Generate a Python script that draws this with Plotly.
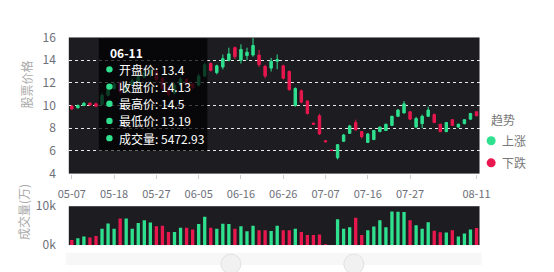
import plotly.graph_objects as go

# ---------------- data ----------------
dates = ["05-07", "05-08", "05-09", "05-10", "05-11", "05-14", "05-15", "05-18",
         "05-19", "05-21", "05-22", "05-23", "05-24", "05-25", "05-27",
         "05-28", "05-29", "05-30", "05-31", "06-01", "06-04", "06-05",
         "06-06", "06-07", "06-08", "06-11", "06-12", "06-13", "06-16",
         "06-18", "06-19", "06-20", "06-21", "06-22", "06-25", "06-26",
         "06-27", "06-28", "06-29", "07-02", "07-03", "07-05", "07-07",
         "07-09", "07-10", "07-11", "07-12", "07-13", "07-14", "07-16",
         "07-17", "07-18", "07-19", "07-20", "07-23", "07-24", "07-27",
         "07-28", "07-30", "07-31", "08-01", "08-02", "08-03", "08-06",
         "08-07", "08-08", "08-09", "08-11"]

open_ = [9.95, 9.8, 10.0, 10.2, 10.15, 10.1, 10.9, 11.5, 12.0, 11.2, 11.8, 12.1, 12.5, 12.7,
         13.0, 12.4, 11.6, 11.1, 11.8, 12.3, 11.9, 11.8, 12.6, 13.7, 12.9, 13.4, 14.0, 15.1,
         14.0, 14.4, 14.45, 14.45, 13.45, 13.3, 13.9, 13.5, 13.0, 10.0, 11.3, 10.4, 8.45, 9.1,
         6.9, 6.05, 5.4, 6.85, 7.55, 8.5, 7.7, 6.75, 7.0, 7.7, 7.8, 8.25, 9.05, 9.35,
         9.45, 8.1, 8.4, 9.05, 9.2, 8.35, 7.7, 8.75, 8.1, 8.4, 8.8, 9.45]
close = [9.7, 10.0, 10.2, 10.05, 9.95, 10.9, 11.6, 11.9, 11.2, 11.9, 12.2, 12.6, 12.9, 13.1,
         12.3, 11.5, 11.0, 11.8, 12.3, 11.8, 11.6, 12.6, 13.6, 13.1, 13.5, 14.13, 14.55, 14.3,
         14.95, 14.7, 15.3, 13.6, 12.6, 13.9, 14.05, 12.4, 11.4, 11.5, 10.3, 9.3, 8.35, 7.5,
         6.8, 6.05, 6.55, 7.4, 8.2, 7.85, 7.25, 7.5, 7.8, 8.1, 8.35, 9.05, 9.6, 10.15,
         8.8, 8.85, 9.05, 9.6, 8.5, 7.7, 8.5, 8.25, 8.35, 8.75, 9.3, 9.1]
high = [10.05, 10.1, 10.3, 10.3, 10.25, 11.1, 11.9, 12.1, 12.2, 12.1, 12.4, 12.8, 13.1, 13.3,
        13.1, 12.5, 11.8, 12.0, 12.5, 12.4, 12.0, 12.8, 13.8, 13.8, 13.6, 14.5, 15.1, 15.2,
        15.4, 15.1, 15.95, 14.9, 13.6, 14.2, 14.5, 13.6, 13.1, 11.6, 11.4, 10.45, 8.5, 9.25,
        6.95, 6.1, 6.6, 7.5, 8.3, 8.75, 7.75, 7.55, 7.85, 8.15, 8.4, 9.1, 9.7, 10.4,
        9.5, 9.0, 9.2, 9.9, 9.3, 8.4, 8.55, 8.8, 8.4, 8.8, 9.35, 9.5]
low = [9.6, 9.75, 9.95, 9.95, 9.85, 10.0, 10.8, 11.4, 11.0, 11.1, 11.7, 12.0, 12.4, 12.5,
       12.1, 11.3, 10.8, 11.0, 11.7, 11.6, 11.4, 11.7, 12.5, 13.0, 12.75, 13.19, 13.9, 14.1,
       13.7, 14.0, 14.3, 13.4, 12.4, 13.0, 13.2, 12.3, 11.3, 9.9, 10.2, 9.2, 8.3, 7.4,
       6.75, 6.0, 5.25, 6.8, 7.5, 7.8, 7.1, 6.7, 6.95, 7.65, 7.75, 8.2, 9.0, 9.3,
       8.75, 8.0, 8.0, 9.0, 8.45, 7.65, 7.65, 8.2, 8.05, 8.35, 8.75, 9.05]
volume = [1300, 1770, 2180, 1940, 2340, 4190, 5560, 4190, 6850, 6850, 4190, 5650, 6370, 5810,
          4840, 5000, 3390, 3390, 4440, 4440, 4030, 5400, 7260, 4440, 4190, 5472.93, 5400, 4190,
          4840, 3550, 5000, 3790, 3790, 3630, 5000, 3790, 3790, 4190, 3390, 2580, 2580, 2740,
          150, 0, 6620, 4200, 4600, 7000, 2580, 3790, 4760, 6370, 4600, 8620, 8600, 8500,
          6400, 5100, 4200, 5900, 3700, 3300, 3250, 3790, 2180, 3000, 4000, 4400]

tick_dates = ["05-07", "05-18", "05-27", "06-05", "06-16", "06-26", "07-07", "07-16", "07-27", "08-11"]
price_ticks = [4, 6, 8, 10, 12, 14, 16]
vol_ticks = [0, 10000]
vol_tick_text = ["0k", "10k"]

tip_date = "06-11"
tip_labels = ["开盘价", "收盘价", "最高价", "最低价", "成交量"]
tip_idx = dates.index(tip_date)
tip_values = [open_[tip_idx], close[tip_idx], high[tip_idx], low[tip_idx], volume[tip_idx]]

UP = "#2fe08f"
DOWN = "#e8174e"
BG = "#1c1c21"
FONT = "Noto Sans CJK SC"
W, H = 554, 272


def px(x):
    return x / W


def py(y):
    return 1 - y / H


fig = go.Figure()
fig.add_trace(go.Candlestick(
    x=dates, open=open_, high=high, low=low, close=close,
    increasing=dict(line=dict(color=UP, width=1), fillcolor=UP),
    decreasing=dict(line=dict(color=DOWN, width=1), fillcolor=DOWN),
    whiskerwidth=0, hoverinfo="skip", showlegend=False,
    xaxis="x", yaxis="y"))

bar_colors = [UP if c >= o else DOWN for o, c in zip(open_, close)]
fig.add_trace(go.Bar(
    x=dates, y=volume, marker=dict(color=bar_colors, line=dict(width=0)),
    width=0.55, hoverinfo="skip", showlegend=False, xaxis="x2", yaxis="y2"))

xdom = [px(60.2), px(487.9)]
axis_font = dict(family=FONT, size=11, color="#6e7079")

fig.update_layout(
    width=W, height=H, margin=dict(l=0, r=0, t=0, b=0),
    paper_bgcolor="white", plot_bgcolor=BG,
    font=dict(family=FONT),
    boxgap=0.42,
    showlegend=False,
    xaxis=dict(domain=xdom, type="category", categoryorder="array", categoryarray=dates,
               range=[-0.5, len(dates) - 0.5], tickmode="array", tickvals=tick_dates,
               ticktext=tick_dates, ticks="outside", ticklen=4, tickcolor="#cccccc",
               tickfont=axis_font, showgrid=False, zeroline=False, anchor="y",
               rangeslider=dict(visible=False), ticklabelstandoff=6, fixedrange=True),
    yaxis=dict(domain=[py(174.5), py(29.3)], range=[4, 16], tickvals=price_ticks,
               tickfont=dict(family=FONT, size=12, color="#6e7079"),
               showgrid=True, gridcolor="rgba(255,255,255,0.9)", griddash="dot", gridwidth=1,
               zeroline=False, ticks="", ticklabelstandoff=12, anchor="x"),
    xaxis2=dict(domain=xdom, type="category", categoryorder="array", categoryarray=dates,
                range=[-0.5, len(dates) - 0.5], showticklabels=False, ticks="",
                showgrid=False, zeroline=False, anchor="y2"),
    yaxis2=dict(domain=[py(250.7), py(209.3)], range=[0, 10000], tickvals=vol_ticks,
                ticktext=vol_tick_text, tickfont=dict(family=FONT, size=12, color="#6e7079"),
                showgrid=True, gridcolor="rgba(255,255,255,0.8)", griddash="dot",
                zeroline=False, ticks="", ticklabelstandoff=12, anchor="x2"),
)

shapes = []
annotations = []

# tooltip
shapes.append(dict(type="rect", xref="paper", yref="paper", x0=px(91.5), x1=px(204.5),
                   y0=py(150), y1=py(30.5), fillcolor="rgba(0,0,0,0.72)",
                   line=dict(width=0), layer="above"))
annotations.append(dict(xref="paper", yref="paper", x=px(101), y=py(45.5), text="<b>" + tip_date + "</b>",
                        showarrow=False, xanchor="left", yanchor="middle",
                        font=dict(family=FONT, size=12, color="white")))
row_y = [63.3, 81.7, 100, 118.3, 136.7]
for lab, val, ry in zip(tip_labels, tip_values, row_y):
    shapes.append(dict(type="circle", xref="paper", yref="paper", xsizemode="pixel",
                       ysizemode="pixel", xanchor=px(102.5), yanchor=py(ry),
                       x0=-3.2, x1=3.2, y0=-3.2, y1=3.2, fillcolor=UP,
                       line=dict(width=0), layer="above"))
    annotations.append(dict(xref="paper", yref="paper", x=px(110), y=py(ry),
                            text=f"{lab}: {val:g}", showarrow=False, xanchor="left",
                            yanchor="middle", font=dict(family=FONT, size=12, color="white")))

# axis titles
annotations.append(dict(xref="paper", yref="paper", x=px(16), y=py(79), text="股票价格",
                        textangle=-90, showarrow=False, xanchor="center", yanchor="middle",
                        font=dict(family=FONT, size=12, color="#aaaaaa")))
annotations.append(dict(xref="paper", yref="paper", x=px(13), y=py(215), text="成交量(万)",
                        textangle=-90, showarrow=False, xanchor="center", yanchor="middle",
                        font=dict(family=FONT, size=12, color="#aaaaaa")))

# legend
annotations.append(dict(xref="paper", yref="paper", x=px(512), y=py(117), text="趋势",
                        showarrow=False, xanchor="center", yanchor="middle",
                        font=dict(family=FONT, size=12, color="#777777")))
for lab, col, ly in [("上涨", UP, 139.5), ("下跌", DOWN, 163)]:
    shapes.append(dict(type="circle", xref="paper", yref="paper", xsizemode="pixel",
                       ysizemode="pixel", xanchor=px(500), yanchor=py(ly),
                       x0=-4.5, x1=4.5, y0=-4.5, y1=4.5, fillcolor=col,
                       line=dict(width=0)))
    annotations.append(dict(xref="paper", yref="paper", x=px(509), y=py(ly), text=lab,
                            showarrow=False, xanchor="left", yanchor="middle",
                            font=dict(family=FONT, size=12, color="#777777")))

# data zoom slider hint at the bottom
shapes.append(dict(type="rect", xref="paper", yref="paper", x0=px(57), x1=px(490),
                   y0=py(272), y1=py(259), fillcolor="#f7f7f7", line=dict(width=0),
                   layer="below"))
for cx in [229, 357]:
    shapes.append(dict(type="circle", xref="paper", yref="paper", xsizemode="pixel",
                       ysizemode="pixel", xanchor=px(cx), yanchor=py(271),
                       x0=-10, x1=10, y0=-10, y1=10, fillcolor="#f1f1f1",
                       line=dict(width=1, color="#e2e2e2"), layer="below"))

fig.update_layout(shapes=shapes, annotations=annotations)
fig.write_html("out.html")
